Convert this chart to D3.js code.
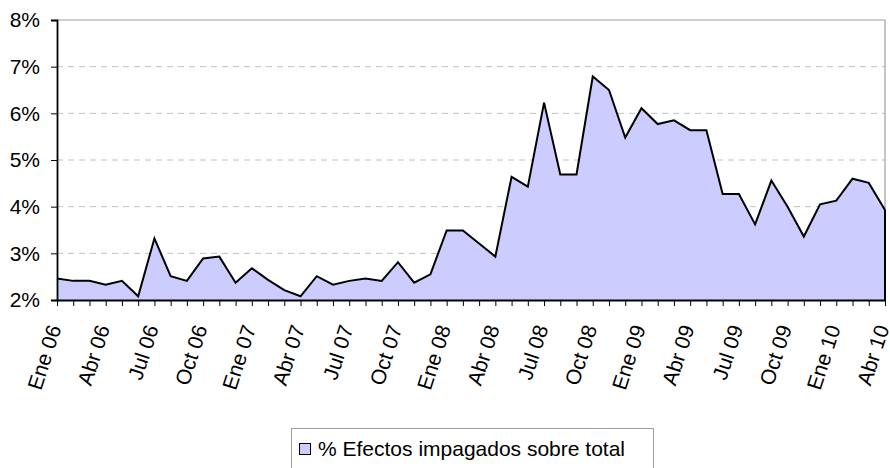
<!DOCTYPE html>
<html>
<head>
<meta charset="utf-8">
<script src="https://cdn.jsdelivr.net/npm/d3@7"></script>
<style>
  body { margin: 0; background: #fff; }
  text { font-family: "Liberation Sans", Arial, sans-serif; fill: #000; }
</style>
</head>
<body>
<script>
const width = 890;
const height = 468;
const margin = { top: 20, right: 5, bottom: 168, left: 57 };

// monthly series Ene 06 .. Abr 10
const months = ["Ene", "Feb", "Mar", "Abr", "May", "Jun", "Jul", "Ago", "Sep", "Oct", "Nov", "Dic"];
const years = ["06", "07", "08", "09", "10"];
const values = [
  2.46, 2.41, 2.41, 2.33, 2.41, 2.08, 3.32, 2.51, 2.41, 2.89, 2.93, 2.37,
  2.68, 2.43, 2.21, 2.08, 2.51, 2.33, 2.41, 2.46, 2.41, 2.81, 2.37, 2.55,
  3.49, 3.49, 3.21, 2.93, 4.64, 4.43, 6.23, 4.69, 4.69, 6.79, 6.50, 5.48,
  6.11, 5.77, 5.85, 5.64, 5.64, 4.27, 4.27, 3.62, 4.56, 4.00, 3.36, 4.05,
  4.13, 4.60, 4.51, 3.93
];
const yTicks = [2, 3, 4, 5, 6, 7, 8];
const seriesName = "% Efectos impagados sobre total";

const labels = values.map((v, i) => months[i % 12] + " " + years[Math.floor(i / 12)]);

const svg = d3.select("body")
    .append("svg")
    .attr("width", width)
    .attr("height", height);

const x = d3.scalePoint()
    .domain(labels)
    .range([margin.left, width - margin.right]);
const y = d3.scaleLinear()
    .domain([2, 8])
    .range([height - margin.bottom, margin.top]);

const x0 = margin.left, x1 = width - margin.right;
const yTop = margin.top, yBot = height - margin.bottom;

// dashed gridlines
svg.append("g")
    .selectAll("line")
    .data(yTicks.filter(t => t > 2 && t < 8))
    .enter()
    .append("line")
    .attr("x1", x0).attr("x2", x1)
    .attr("y1", d => y(d)).attr("y2", d => y(d))
    .attr("stroke", "#c0c0c0")
    .attr("stroke-width", 1)
    .attr("stroke-dasharray", "6,5");

// plot frame top / right
svg.append("path")
    .attr("d", `M${x0},${yTop}H${x1}V${yBot}`)
    .attr("fill", "none")
    .attr("stroke", "#a0a0a0")
    .attr("stroke-width", 1.2);

// area
const area = d3.area()
    .x((d, i) => x(labels[i]))
    .y0(yBot)
    .y1(d => y(d));

svg.append("path")
    .datum(values)
    .attr("d", area)
    .attr("fill", "#ccccff")
    .attr("stroke", "none");

svg.append("path")
    .datum(values)
    .attr("d", d3.line().x((d, i) => x(labels[i])).y(d => y(d)))
    .attr("fill", "none")
    .attr("stroke", "#000")
    .attr("stroke-width", 2)
    .attr("stroke-linejoin", "miter");

// right edge of the area
svg.append("line")
    .attr("x1", x1).attr("x2", x1)
    .attr("y1", y(values[values.length - 1])).attr("y2", yBot)
    .attr("stroke", "#000").attr("stroke-width", 2);

// y axis
const yAxis = d3.axisLeft(y)
    .tickValues(yTicks)
    .tickSize(6)
    .tickPadding(11)
    .tickFormat(d => d + "%");

svg.append("g")
    .attr("transform", `translate(${x0},0)`)
    .call(yAxis)
    .call(g => g.select(".domain").attr("stroke", "#000").attr("stroke-width", 1.8))
    .call(g => g.selectAll(".tick line").attr("stroke", "#000"))
    .call(g => g.selectAll("text")
        .attr("font-size", 21)
        .attr("font-family", "Liberation Sans, Arial, sans-serif")
        .attr("fill", "#000"));

// x axis
const xAxis = d3.axisBottom(x)
    .tickSize(6)
    .tickSizeOuter(0)
    .tickFormat((d, i) => i % 3 === 0 ? d : "");

svg.append("g")
    .attr("transform", `translate(0,${yBot})`)
    .call(xAxis)
    .call(g => g.select(".domain").attr("stroke", "#000").attr("stroke-width", 1.8))
    .call(g => g.selectAll(".tick line").attr("stroke", "#000"))
    .call(g => g.selectAll("text")
        .attr("font-size", 21)
        .attr("font-family", "Liberation Sans, Arial, sans-serif")
        .attr("fill", "#000")
        .attr("text-anchor", "end")
        .attr("y", 0)
        .attr("dy", 0)
        .attr("transform", "translate(4,28) rotate(-72)"));

// legend
const legend = svg.append("g");
legend.append("rect")
    .attr("x", 291.5).attr("y", 428.5)
    .attr("width", 362).attr("height", 40)
    .attr("fill", "#fff")
    .attr("stroke", "#a0a0a0");
legend.append("rect")
    .attr("x", 299.5).attr("y", 443.5)
    .attr("width", 11).attr("height", 11)
    .attr("fill", "#ccccff")
    .attr("stroke", "#000");
legend.append("text")
    .attr("x", 318).attr("y", 456)
    .attr("font-size", 21)
    .text(seriesName);
</script>
</body>
</html>
